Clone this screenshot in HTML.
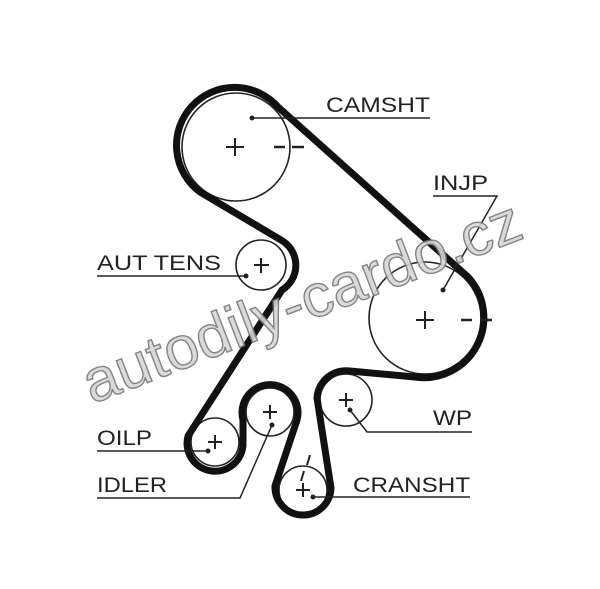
<!DOCTYPE html>
<html><head><style>html,body{margin:0;padding:0;background:#fff}svg{display:block}</style></head>
<body>
<svg width="600" height="589" viewBox="0 0 600 589" xmlns="http://www.w3.org/2000/svg" font-family="Liberation Sans, sans-serif">
<rect width="600" height="589" fill="#fff"/>
<g fill="none" stroke="#222" stroke-width="1.6">
<circle cx="236" cy="147" r="54"/>
<circle cx="425" cy="318" r="56"/>
<circle cx="261" cy="265" r="25"/>
<circle cx="215" cy="442" r="24"/>
<circle cx="270" cy="412" r="24"/>
<circle cx="346" cy="400" r="26"/>
<circle cx="303" cy="490" r="24"/>
</g>
<path d="M278,107 L468,277 A60,60 0 0 1 415,377 L350,371 A29,29 0 0 0 317,398 L331,488 A28,28 0 0 1 275,486 L297,420 A28,28 0 1 0 243,420 L243,445 A28,28 0 1 1 188,436 L282,290 A29,29 0 0 0 281,240 L200,192 A58,58 0 1 1 278,107 Z" fill="none" stroke="#111" stroke-width="7" stroke-linejoin="round"/>
<g stroke="#222" stroke-width="2" fill="none">
<path d="M226,147h18M235,138v18"/>
<path d="M416,320h18M425,311v18"/>
<path d="M254,265h15M261,258v15"/>
<path d="M208,442h14M215,435v14"/>
<path d="M263,412h14M270,405v14"/>
<path d="M339,400h14M346,393v14"/>
<path d="M296,490h14M303,483v14"/>
<path d="M310,455l-3,10M304,471l-3,10" />
</g>
<g stroke="#222" stroke-width="2.5" fill="none">
<path d="M274,147h11M292,147h12"/>
<path d="M461,320h11M480,320h12"/>
</g>
<g stroke="#222" stroke-width="1.5" fill="none">
<path d="M252,118H430"/>
<path d="M433,196H497L443,290"/>
<path d="M97,276H246"/>
<path d="M350,410L367,432H472"/>
<path d="M97,451H208"/>
<path d="M97,498H240L272,425"/>
<path d="M313,497H470"/>
</g>
<g fill="#222">
<circle cx="252" cy="118" r="2.5"/><circle cx="443" cy="290" r="2.5"/><circle cx="246" cy="276" r="2.5"/>
<circle cx="350" cy="410" r="2.5"/><circle cx="208" cy="451" r="2.5"/><circle cx="272" cy="425" r="2.5"/><circle cx="313" cy="497" r="2.5"/>
</g>
<g font-size="21" fill="#222">
<text x="326" y="112" textLength="104" lengthAdjust="spacingAndGlyphs">CAMSHT</text>
<text x="433" y="190" textLength="55" lengthAdjust="spacingAndGlyphs">INJP</text>
<text x="97" y="270" textLength="124" lengthAdjust="spacingAndGlyphs">AUT TENS</text>
<text x="433" y="425" textLength="39" lengthAdjust="spacingAndGlyphs">WP</text>
<text x="97" y="445" textLength="55" lengthAdjust="spacingAndGlyphs">OILP</text>
<text x="97" y="492" textLength="70" lengthAdjust="spacingAndGlyphs">IDLER</text>
<text x="353" y="492" textLength="117" lengthAdjust="spacingAndGlyphs">CRANSHT</text>
</g>
<text x="0" y="0" transform="translate(92,404) rotate(-21)" font-size="60" textLength="465" lengthAdjust="spacingAndGlyphs" fill="#d6d6d6" stroke="#777" stroke-width="1.4" opacity="0.9">autodily-cardo.cz</text>
</svg>
</body></html>
